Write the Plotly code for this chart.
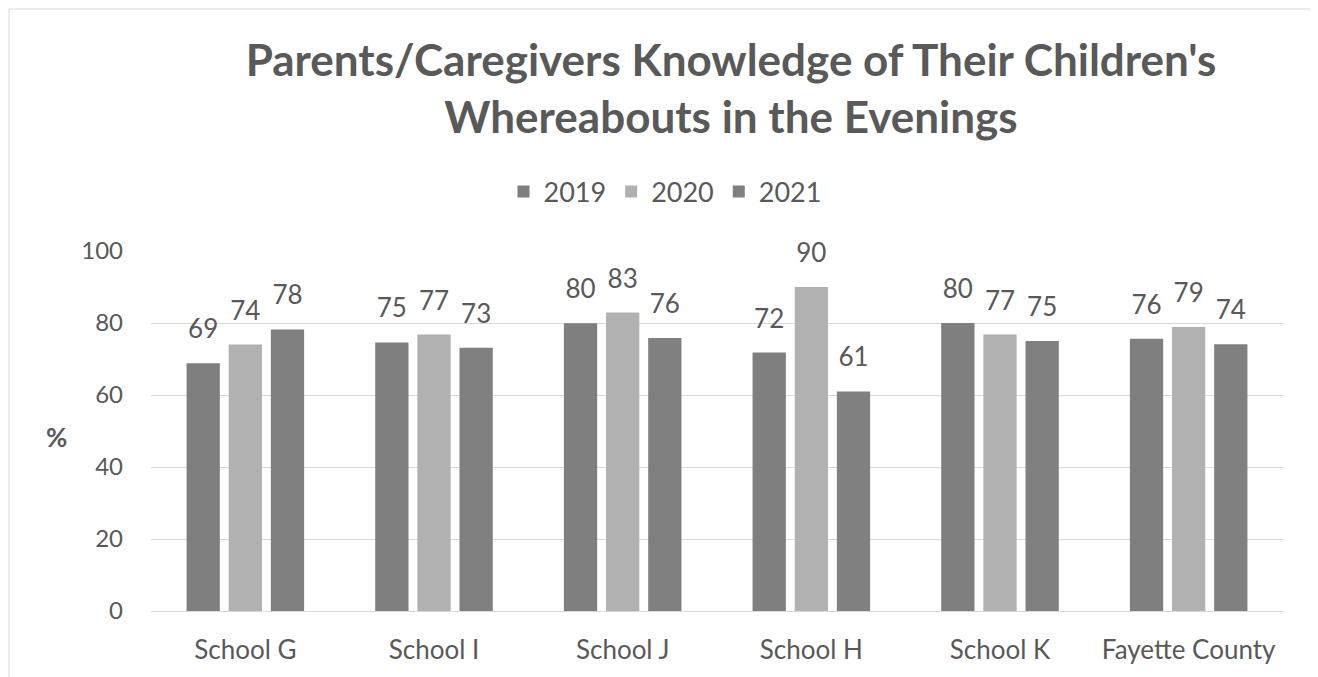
import plotly.graph_objects as go

categories = ["School G", "School I", "School J", "School H", "School K", "Fayette County"]
series_names = ["2019", "2020", "2021"]
values_2019 = [68.8, 74.6, 79.9, 71.8, 80.0, 75.6]
values_2020 = [74.0, 76.8, 82.9, 90.0, 76.8, 78.9]
values_2021 = [78.2, 73.1, 75.8, 61.0, 75.0, 74.1]
y_ticks = [0, 20, 40, 60, 80, 100]

colors = ["#7f7f7f", "#b1b1b1", "#808080"]
font_family = "Lato, Carlito, 'Open Sans', sans-serif"
text_color = "#595959"

# page has an 8px body margin; figure is sized to fill the rest
OFF = 8
W, H = 1318 - OFF, 677 - OFF
L = 151 - OFF
R = W - (1283 - OFF)
T = 251 - OFF
B = H - (611 - OFF)
pw = W - L - R
ph = H - T - B

def px_x(p):  # page px -> paper x
    return (p - OFF - L) / pw

def px_y(p):  # page px -> paper y
    return (H - B - (p - OFF)) / ph

BARGAP = 0.33

fig = go.Figure()
for name, vals, col in zip(series_names, [values_2019, values_2020, values_2021], colors):
    fig.add_trace(go.Bar(
        x=categories, y=vals, name=name,
        marker=dict(color=col, line=dict(width=0)),
    ))
for name, vals in zip(series_names, [values_2019, values_2020, values_2021]):
    fig.add_trace(go.Scatter(
        x=categories, y=vals, name=name + " labels",
        mode="markers+text",
        marker=dict(size=28, opacity=0, color="white"),
        text=[f"{v:.0f}" for v in vals],
        textposition="top center",
        textfont=dict(size=26, color=text_color, family=font_family),
        cliponaxis=False, showlegend=False, hoverinfo="skip",
    ))

fig.update_layout(
    width=W, height=H,
    margin=dict(l=L, r=R, t=T, b=B),
    paper_bgcolor="white", plot_bgcolor="white",
    barmode="group", bargap=BARGAP, bargroupgap=0.21,
    scattermode="group", scattergap=BARGAP,
    font=dict(family=font_family, color=text_color),
    title=dict(
        text="<b>Parents/Caregivers Knowledge of Their Children's<br>Whereabouts in the Evenings</b>",
        x=(731 - OFF) / W, xanchor="center", xref="container",
        y=1 - (76 - OFF) / H, yanchor="middle", yref="container",
        font=dict(size=44, color=text_color, family=font_family),
    ),
    legend=dict(
        orientation="h", x=px_x(665), xanchor="center",
        y=px_y(192), yanchor="middle",
        font=dict(size=27, color=text_color, family=font_family),
        itemwidth=30, traceorder="normal",
    ),
    xaxis=dict(
        showgrid=False, showline=True, linecolor="#d9d9d9", linewidth=1,
        tickfont=dict(size=26, color=text_color, family=font_family),
        ticks="", ticklabelstandoff=16,
    ),
    yaxis=dict(
        range=[0, 100], tickvals=y_ticks,
        showgrid=True, gridcolor="#d9d9d9", gridwidth=1,
        zeroline=True, zerolinecolor="#d9d9d9", zerolinewidth=1,
        tickfont=dict(size=24, color=text_color, family=font_family),
        ticks="", ticklabelstandoff=27,
    ),
    showlegend=True,
)

fig.add_annotation(
    text="<b>%</b>", xref="paper", yref="paper",
    x=px_x(56), y=px_y(437), xanchor="center", yanchor="middle",
    showarrow=False, font=dict(size=26, color=text_color, family=font_family),
)

fig.add_shape(
    type="rect", xref="paper", yref="paper",
    x0=px_x(OFF + 1), x1=px_x(1312), y0=px_y(720), y1=px_y(OFF + 1),
    line=dict(color="#d9d9d9", width=1), fillcolor="rgba(0,0,0,0)", layer="below",
)

fig.write_html("out.html")
